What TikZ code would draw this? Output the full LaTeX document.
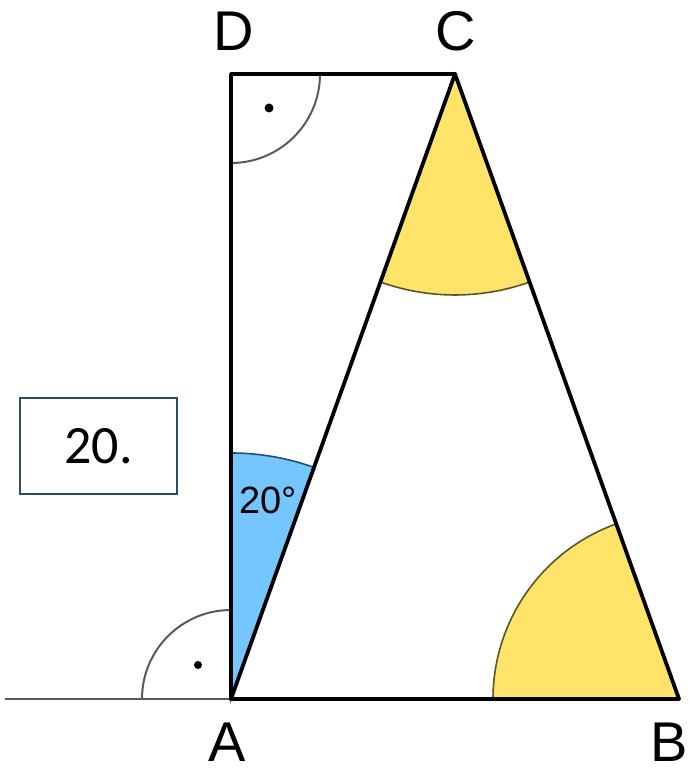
\documentclass[tikz,border=0pt]{standalone}
\usepackage{fontspec}
\usetikzlibrary{calc}
\setmainfont{Liberation Sans}
\newfontfamily\boxfont{Carlito}
\begin{document}
\begin{tikzpicture}[x=1pt,y=1pt,
  side/.style={line width=3.8pt,line join=round,line cap=round},
  rightarc/.style={draw=black!65,line width=2pt},
  yellowsec/.style={fill=myyellow,draw=myolive,line width=1.6pt},
  bluesec/.style={fill=myblue,draw=mydarkblue,line width=1.6pt},
  vlabel/.style={font=\fontsize{56}{56}\selectfont,inner sep=0pt},
]
\definecolor{myyellow}{HTML}{FFE469}
\definecolor{myolive}{HTML}{5C5426}
\definecolor{myblue}{HTML}{75C5FF}
\definecolor{mydarkblue}{HTML}{1F4F75}
\definecolor{boxblue}{HTML}{2F4A68}
\useasboundingbox (0,0) rectangle (691,775);
\coordinate (A) at (231,76);
\coordinate (B) at (679,76);
\coordinate (C) at (455,701);
\coordinate (D) at (231,701);
\coordinate (L) at (5,76);
% sectors
\filldraw[bluesec] (A) -- ++(90:246) arc[start angle=90,end angle=70.3,radius=246] -- cycle;
\filldraw[yellowsec] (C) -- ++(250.3:221) arc[start angle=250.3,end angle=289.8,radius=221] -- cycle;
\filldraw[yellowsec] (B) -- ++(180:186) arc[start angle=180,end angle=109.8,radius=186] -- cycle;
% right angle marks
\draw[rightarc] (L) -- (A);
\draw[rightarc] ($(A)+(-89,0)$) arc[start angle=180,end angle=90,radius=89];
\draw[rightarc] ($(D)+(89,0)$) arc[start angle=0,end angle=-90,radius=89];
\fill (198,110) circle (4);
\fill (269,667) circle (4.5);
% sides
\draw[side] (A) -- (B) -- (C) -- (A);
\draw[side] (A) -- (D) -- (C);
% labels
\node[vlabel] (lD) at (233.5,743.5) {D};
\node[vlabel] (lC) at (455.5,743.5) {C};
\node[vlabel] (lA) at (227.5,33) {A};
\node[vlabel] (lB) at (669,33) {B};
\node[font=\fontsize{38}{38}\selectfont,inner sep=0pt] (ang) at (268,275) {20°};
\node[draw=boxblue,line width=2pt,minimum width=157,minimum height=96,inner sep=0pt,
  font=\boxfont\fontsize{54}{54}\selectfont] (num) at (98.5,329) {20.};
\end{tikzpicture}
\end{document}
